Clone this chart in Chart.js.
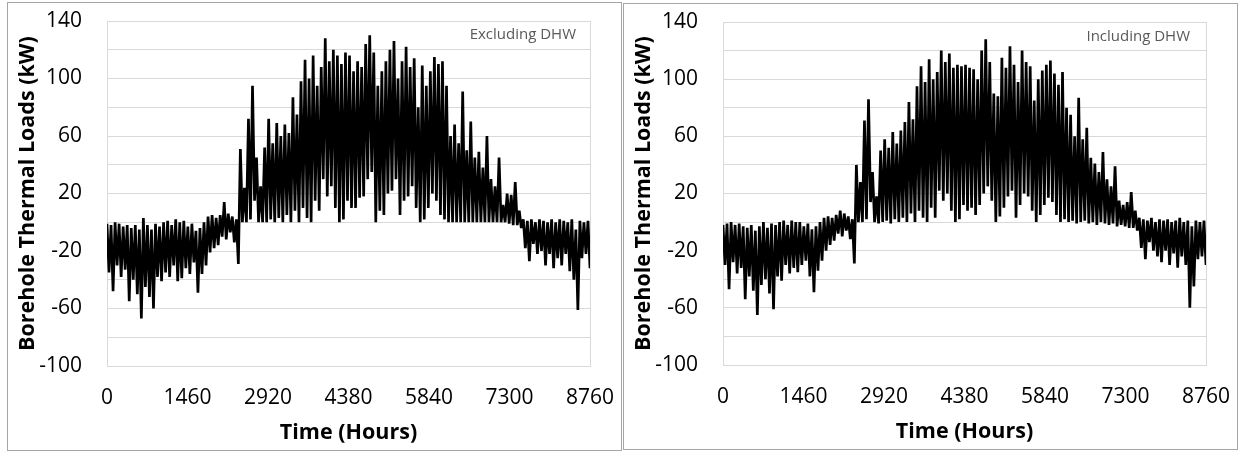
<!DOCTYPE html>
<html>
<head>
<meta charset="utf-8">
<script src="https://cdn.jsdelivr.net/npm/chart.js@4.4.1/dist/chart.umd.min.js"></script>
<style>
  body { margin: 0; width: 1242px; height: 451px; background: #fff; position: relative; overflow: hidden; }
  .panel { position: absolute; border: 1px solid #a6a6a6; background: #fff; }
  #p1 { left: 7px; top: 2px; width: 613px; height: 447px; }
  #p2 { left: 623px; top: 3px; width: 613px; height: 445px; }
  canvas { display: block; }
</style>
</head>
<body>
<div class="panel" id="p1"><canvas id="c1" width="613" height="447"></canvas></div>
<div class="panel" id="p2"><canvas id="c2" width="613" height="445"></canvas></div>
<script>
// axis ticks
const xTicks = [0, 1460, 2920, 4380, 5840, 7300, 8760];
const yTickLabels = [-100, -60, -20, 20, 60, 100, 140];

// hourly loads, as peak / trough for each 73-hour block (120 blocks)
const excHigh = [
  -1, -2, 0, -1, -3, -2, -4, -2, -5, 3, -2, -5, -1, -3, 0, 1, -2, 2, 0, 1,
  -3, -1, -6, -4, 0, 4, 5, 3, 5, 14, 6, 4, 2,
  51, 24, 72, 95, 45, 25, 52, 72, 55, 69, 60, 68, 62, 87, 75, 98, 113, 100, 116, 95, 108, 128, 112, 120, 116, 110, 118,
  116, 105, 112, 108, 124, 130, 118, 95, 105, 112, 120, 126, 100, 112, 122, 108, 114, 80, 109, 95,
  105, 115, 110, 112, 95, 60, 68, 55, 91, 50, 70, 45, 49, 38, 60, 30, 25, 45, 12, 20,
  19, 28, 8, 2, 1, 2, 0, 2, 1, 0, 2, 0, 2, 1, 0, 2, -5, 1, 0, 1
];
const excLow = [
  -35, -48, -30, -38, -33, -55, -40, -50, -67, -45, -52, -60, -38, -41, -35, -38, -30, -41, -39, -32,
  -36, -28, -49, -36, -30, -21, -18, -16, -10, -12, -7, -14, -29,
  0, 0, 2, 15, 0, 0, 0, 2, 0, 3, 0, 5, 0, 8, 0, 10, 3, 0, 15, 8, 30, 18, 25, 10, 0, 2, 15,
  10, 10, 17, 18, 30, 35, 0, 8, 5, 20, 22, 30, 5, 15, 18, 25, 10, 0, 2, 10,
  20, 15, 5, 2, 0, 0, 0, 0, 0, 0, 0, 0, 0, 0, 0, 0, 0, 0, 0, -1,
  -2, -2, -4, -18, -27, -15, -22, -20, -30, -22, -32, -25, -30, -22, -34, -40, -61, -25, -22, -32
];
const incHigh = [
  -2, -1, 0, -2, -1, -3, -4, -2, -6, -3, 0, -4, -1, -2, 0, 1, -2, 1, 0, 0,
  -3, -1, -5, -3, 0, 3, 4, 3, 5, 8, 6, 4, 2,
  40, 28, 71, 86, 35, 18, 50, 58, 52, 63, 55, 64, 70, 84, 72, 95, 109, 98, 114, 100, 105, 120, 112, 118, 108, 110, 109,
  110, 108, 107, 100, 120, 128, 112, 90, 88, 115, 108, 123, 110, 98, 120, 112, 109, 85, 100, 106,
  110, 113, 104, 96, 105, 80, 75, 60, 87, 58, 66, 45, 41, 35, 49, 30, 25, 39, 15, 12,
  14, 21, 8, 3, 2, 1, 3, 0, 2, 1, 2, 0, 1, 3, 0, 1, -3, 1, 0, 1
];
const incLow = [
  -30, -47, -28, -36, -32, -54, -38, -48, -65, -44, -40, -50, -61, -38, -41, -30, -36, -32, -35, -30,
  -27, -38, -49, -34, -27, -20, -16, -13, -8, -10, -6, -12, -29,
  0, 0, 2, 14, 0, -1, 0, 1, -1, 2, 0, 3, 0, 6, 0, 8, 3, 0, 10, 3, 22, 15, 20, 8, 0, 2, 12,
  8, 10, 5, 12, 20, 25, 15, 0, 4, 10, 18, 22, 3, 12, 20, 18, 8, 0, 5, 12,
  17, 14, 5, 0, 2, 0, 1, -1, 0, 1, -1, 0, -2, 0, -1, -2, -1, -3, -2, -3,
  -4, -4, -6, -18, -26, -14, -20, -24, -28, -20, -30, -22, -32, -24, -30, -60, -45, -26, -24, -30
];

function toPoints(high, low) {
  const n = high.length * 2 - 1;
  const pts = [];
  high.forEach((h, i) => {
    pts.push({x: (2 * i) * 8760 / n, y: h});
    pts.push({x: (2 * i + 1) * 8760 / n, y: low[i]});
  });
  return pts;
}

// light frame round the plot area + the note in the upper right corner
const framePlugin = {
  id: 'frame',
  beforeDatasetsDraw(chart) {
    const {ctx, chartArea: a} = chart;
    ctx.save();
    ctx.strokeStyle = '#d9d9d9';
    ctx.lineWidth = 1;
    ctx.strokeRect(Math.round(a.left) + 0.5, Math.round(a.top) + 0.5, Math.round(a.right - a.left), Math.round(a.bottom - a.top));
    ctx.restore();
  },
  afterDraw(chart, args, opts) {
    const {ctx, chartArea: a} = chart;
    ctx.save();
    ctx.font = '15px "Open Sans"';
    ctx.fillStyle = '#595959';
    ctx.textAlign = 'right';
    ctx.textBaseline = 'middle';
    ctx.fillText(opts.note, a.right - opts.dx, a.top + opts.dy);
    ctx.restore();
  }
};

// no extra room for edge labels, the plot area is set by the layout padding
function noPad(s) {
  s.paddingTop = 0; s.paddingBottom = 0; s.paddingLeft = 0; s.paddingRight = 0;
}

function makeChart(id, high, low, note, dx, dy) {
  const ctx = document.getElementById(id).getContext('2d');
  return new Chart(ctx, {
    type: 'line',
    data: {
      datasets: [{
        data: toPoints(high, low),
        borderColor: '#000000',
        borderWidth: 2.7,
        borderJoinStyle: 'bevel',
        pointRadius: 0,
        tension: 0,
        fill: false
      }]
    },
    options: {
      responsive: false,
      animation: false,
      layout: { padding: { top: 18, right: 31, left: 0, bottom: 0 } },
      plugins: {
        legend: { display: false },
        tooltip: { enabled: false },
        frame: { note: note, dx: dx, dy: dy }
      },
      scales: {
        x: {
          type: 'linear',
          min: 0,
          max: 8760,
          afterBuildTicks: s => { s.ticks = xTicks.map(v => ({value: v})); },
          afterFit: s => { s.height = 84; noPad(s); },
          grid: { display: false, drawTicks: false },
          border: { display: false },
          ticks: {
            padding: 19,
            maxRotation: 0,
            autoSkip: false,
            color: '#000',
            font: { family: 'Open Sans', size: 21 },
            callback: v => String(v)
          },
          title: {
            display: true,
            text: 'Time (Hours)',
            color: '#000',
            font: { family: 'Open Sans', size: 21.5, weight: 'bold' },
            padding: { top: 0, bottom: 4 }
          }
        },
        y: {
          min: -100,
          max: 140,
          afterFit: s => { s.width = 99; noPad(s); },
          grid: { color: '#d9d9d9', drawTicks: false },
          border: { display: false },
          ticks: {
            stepSize: 20,
            padding: 25,
            color: '#000',
            font: { family: 'Open Sans', size: 21 },
            callback: v => yTickLabels.includes(v) ? String(v) : ''
          },
          title: {
            display: true,
            text: 'Borehole Thermal Loads (kW)',
            color: '#000',
            font: { family: 'Open Sans', size: 21.5, weight: 'bold' },
            padding: { top: 7, bottom: 0 }
          }
        }
      }
    },
    plugins: [framePlugin]
  });
}

makeChart('c1', excHigh, excLow, 'Excluding DHW', 14, 14);
makeChart('c2', incHigh, incLow, 'Including DHW', 16, 15);
</script>
</body>
</html>
